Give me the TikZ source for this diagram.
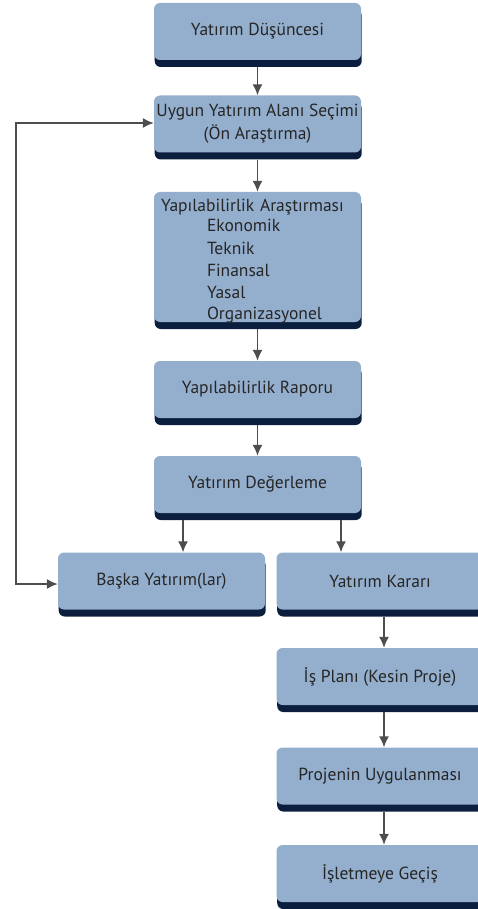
\documentclass[tikz,border=0pt]{standalone}
\usepackage{fontspec}
\setmainfont{PT Sans}
\usetikzlibrary{arrows.meta,shadows}
\definecolor{boxfill}{HTML}{94AFCD}
\definecolor{boxshade}{HTML}{0B1E3D}
\definecolor{linegray}{HTML}{4D4D4B}
\definecolor{textgray}{HTML}{262626}
\tikzset{
  stepbox/.style={rounded corners=6pt, fill=boxfill, text=textgray,
    minimum width=207pt, minimum height=57pt, inner sep=2pt,
    font=\fontsize{17.5}{23}\selectfont, align=center,
    drop shadow={shadow xshift=0.7pt, shadow yshift=-7pt, fill=boxshade, opacity=1}},
  tip/.tip={Latex[length=11pt,width=10pt]},
  arr/.style={draw=linegray, line width=1.6pt, -tip},
}
\begin{document}
\begin{tikzpicture}[x=1pt,y=-1pt]
\useasboundingbox (0,0) rectangle (478,909);

% main column
\node[stepbox] (b1) at (257.5,31.5) {Yatırım Düşüncesi};
\node[stepbox] (b2) at (257.5,124) {Uygun Yatırım Alanı Seçimi\\(Ön Araştırma)};
\node[stepbox, minimum height=130pt, text width=193pt, inner xsep=7pt,
      inner ysep=0pt, text height=20pt, text depth=110pt,
      align=left, font=\fontsize{17.5}{22}\selectfont]
  (b3) at (257.5,257)
  {Yapılabilirlik Araştırması\\[-2pt]
   \hspace*{46pt}Ekonomik\\
   \hspace*{46pt}Teknik\\
   \hspace*{46pt}Finansal\\
   \hspace*{46pt}Yasal\\
   \hspace*{46pt}Organizasyonel};
\node[stepbox] (b4) at (257.5,389.5) {Yapılabilirlik Raporu};
\node[stepbox] (b5) at (257.5,484.5) {Yatırım Değerleme};

% branches
\node[stepbox] (b6) at (161.5,581) {Başka Yatırım(lar)};
\node[stepbox] (b7) at (380,581) {Yatırım Kararı};
\node[stepbox] (b8) at (380,676.5) {İş Planı (Kesin Proje)};
\node[stepbox] (b9) at (380,776) {Projenin Uygulanması};
\node[stepbox] (b10) at (380,873.5) {İşletmeye Geçiş};

% connectors
\draw[arr] ([yshift=-7pt]b1.south) -- (b2.north);
\draw[arr] ([yshift=-7pt]b2.south) -- (b3.north);
\draw[arr] ([yshift=-7pt]b3.south) -- (b4.north);
\draw[arr] ([yshift=-7pt]b4.south) -- (b5.north);
\draw[arr] ([xshift=-74.5pt,yshift=-7pt]b5.south) -- ([xshift=-74.5pt]b5.south |- b6.north);
\draw[arr] ([xshift=83.5pt,yshift=-7pt]b5.south) -- ([xshift=83.5pt]b5.south |- b7.north);
\draw[arr] ([xshift=4pt,yshift=-7pt]b7.south) -- ([xshift=4pt]b8.north);
\draw[arr] ([xshift=4pt,yshift=-7pt]b8.south) -- ([xshift=4pt]b9.north);
\draw[arr] ([xshift=4pt,yshift=-7pt]b9.south) -- ([xshift=4pt]b10.north);

% feedback loop
\draw[arr, tip-tip]
  ([yshift=-3pt]b6.west) -- ++(-42,0) |- ([yshift=1pt]b2.west);
\end{tikzpicture}
\end{document}
